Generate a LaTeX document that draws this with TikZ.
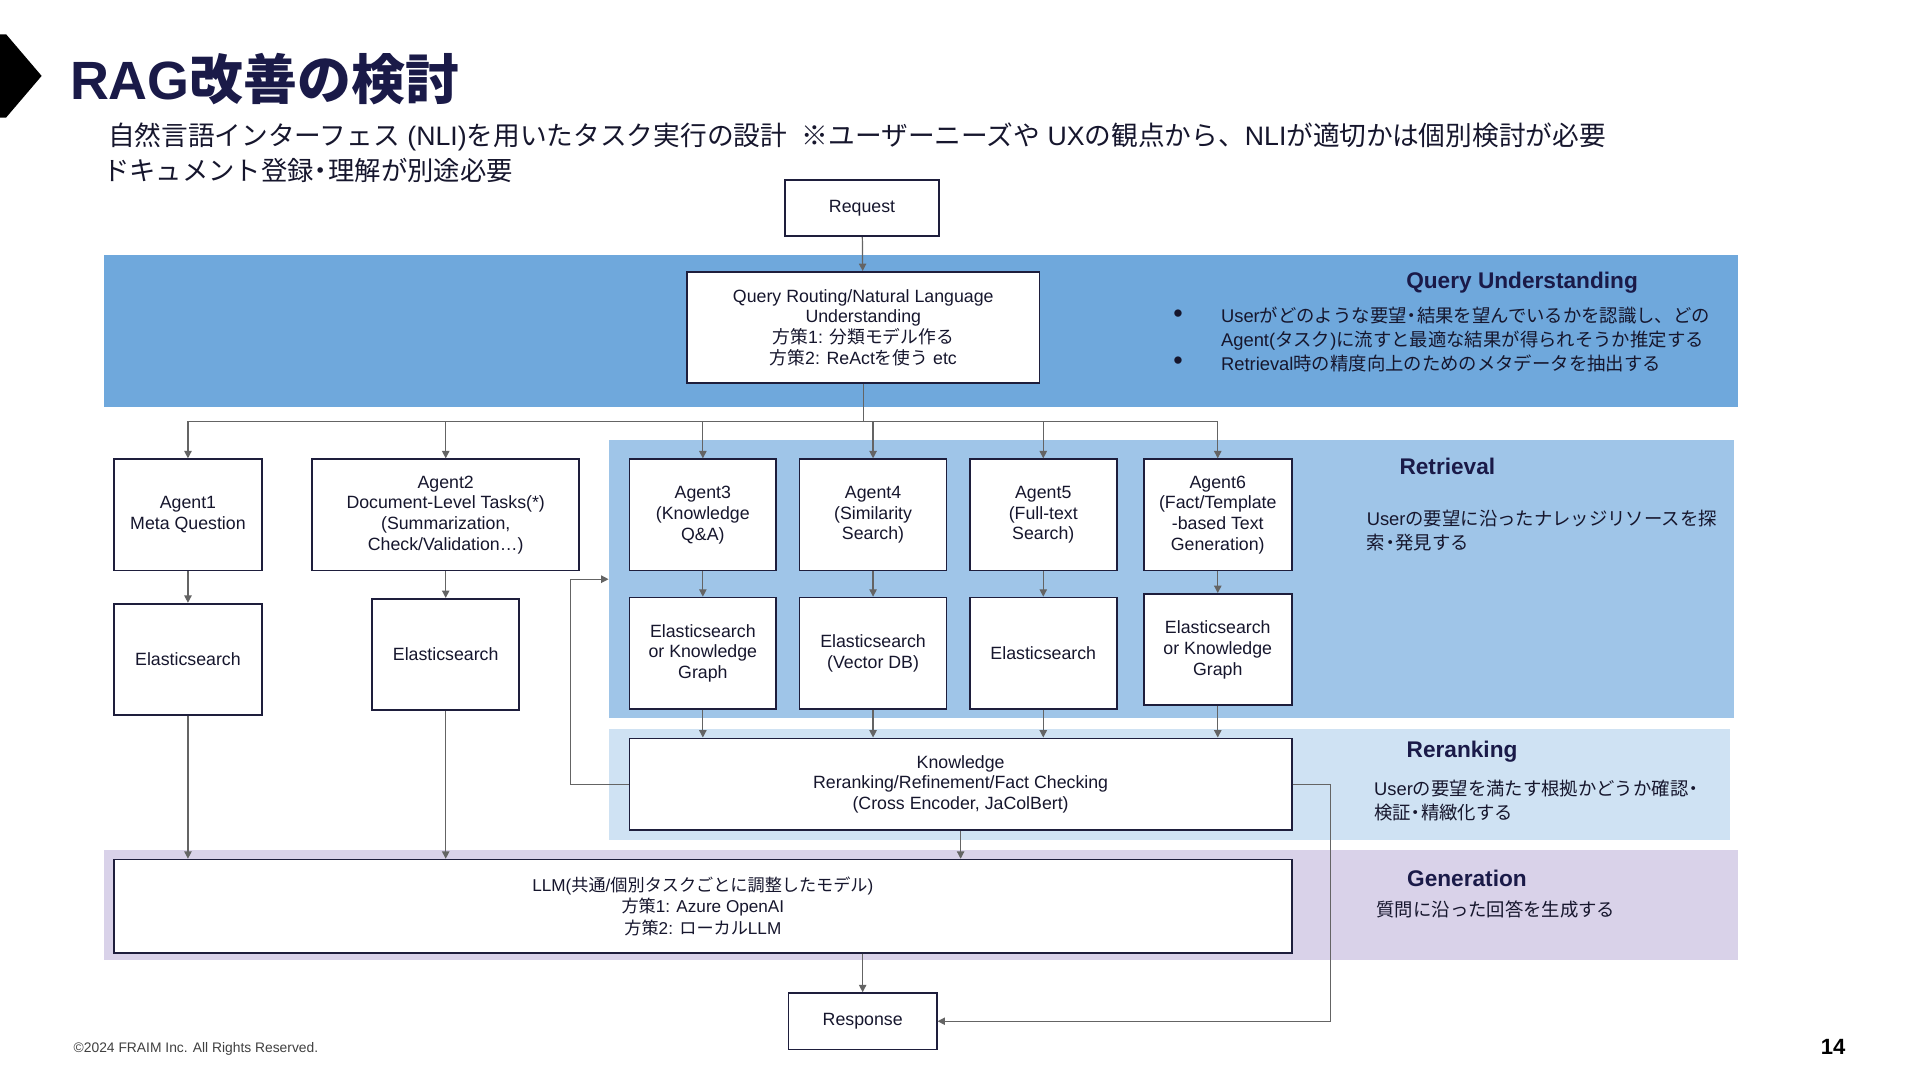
\documentclass[tikz,border=0pt]{standalone}
\usepackage{fontspec}
\setmainfont{Liberation Sans}
\newfontfamily\cjkfam{Noto Sans CJK JP}
\usetikzlibrary{arrows.meta,calc}
% automatic switch to the CJK font for CJK characters
\newXeTeXintercharclass\CJKcls
\newcount\cjkcc
\def\setcjkrange#1#2{\cjkcc=#1\relax
  \loop\XeTeXcharclass\cjkcc=\CJKcls\relax
  \ifnum\cjkcc<#2\relax\advance\cjkcc by 1\relax\repeat}
\setcjkrange{"3000}{"30FF}
\setcjkrange{"4E00}{"9FFF}
\setcjkrange{"FF00}{"FFEF}
\XeTeXcharclass"203B=\CJKcls
\XeTeXinterchartoks 0 \CJKcls = {\cjkfam}
\XeTeXinterchartoks 4095 \CJKcls = {\cjkfam}
\XeTeXinterchartoks \CJKcls 0 = {\rmfamily}
\XeTeXinterchartoks \CJKcls 4095 = {\rmfamily}
\XeTeXinterchartokenstate=1
\newcommand\nk{\kern-.22em・\kern-.22em}
\definecolor{qublue}{RGB}{111,168,220}
\definecolor{retblue}{RGB}{159,197,232}
\definecolor{rrblue}{RGB}{207,226,243}
\definecolor{genpurple}{RGB}{217,210,233}
\definecolor{navy}{RGB}{26,26,72}
\definecolor{boxc}{RGB}{30,30,60}
\definecolor{txtc}{RGB}{22,22,45}
\definecolor{arrc}{RGB}{100,100,100}
\begin{document}
\begin{tikzpicture}[x=1pt,y=-1pt,
  box/.style={draw=boxc, line width=1.4pt, fill=white, align=center, inner sep=2pt,
    text=txtc, font=\fontsize{14.5}{17}\selectfont},
  wh/.style 2 args={minimum width=#1pt, minimum height=#2pt},
  arr/.style={draw=arrc, line width=1pt, -{Triangle[length=6pt,width=6pt]}},
  conn/.style={draw=arrc, line width=1pt},
  bandtitle/.style={text=navy, font=\fontsize{18.5}{22}\selectfont\bfseries},
  bandtext/.style={text=txtc, anchor=west, align=left, inner sep=0pt,
    font=\fontsize{15}{19.5}\selectfont},
  bullet/.style={text=txtc, font=\fontsize{22}{22}\selectfont}]
\useasboundingbox (0,0) rectangle (1568,882);
\fill[white] (0,0) rectangle (1568,882);
% header
\fill[black] (0,28) -- (5,28) -- (34,62) -- (5,96) -- (0,96) -- cycle;
\node[anchor=west, inner sep=0pt, text=navy, font=\fontsize{44}{50}\selectfont\bfseries] (title) at (57,65) {RAG改善の検討};
\node[anchor=west, inner sep=0pt, text=txtc, font=\fontsize{21.8}{26}\selectfont] (sub1) at (88,112) {自然言語インターフェス (NLI)を用いたタスク実行の設計\ \ ※ユーザーニーズや UXの観点から、NLIが適切かは個別検討が必要};
\node[anchor=west, inner sep=0pt, text=txtc, font=\fontsize{21.5}{26}\selectfont] (sub2) at (84,139) {ドキュメント登録\nk 理解が別途必要};
% bands
\fill[qublue] (85,208) rectangle (1419,332);
\node[fill=retblue, inner sep=0pt, anchor=north west, minimum width=919pt, minimum height=227pt] (retband) at (497,359) {};
\fill[rrblue] (497,595) rectangle (1413,686);
\fill[genpurple] (85,694) rectangle (1419,784);
% band texts
\node[bandtitle] (qut) at (1243,231) {Query Understanding};
\node[bullet] (b1) at (962,258) {•};
\node[bullet] (b2) at (962,297) {•};
\node[bandtext] (qub) at (997,277.5) {Userがどのような要望\nk 結果を望んでいるかを認識し、どの\\Agent(タスク)に流すと最適な結果が得られそうか推定する\\Retrieval時の精度向上のためのメタデータを抽出する};
\node[bandtitle] (rett) at (1182,381) {Retrieval};
\node[bandtext] (retb) at (1116,433.5) {Userの要望に沿ったナレッジリソースを探\\索\nk 発見する};
\node[bandtitle] (rrt) at (1194,614) {Reranking};
\node[bandtext] (rrb) at (1122,654) {Userの要望を満たす根拠かどうか確認\nk\\検証\nk 精緻化する};
\node[bandtitle] (gent) at (1198,717) {Generation};
\node[bandtext] (genb) at (1124,743) {質問に沿った回答を生成する};
% boxes
\node[box, wh={126}{46}] (req) at (704,170) {Request};
\node[box, wh={288}{91}] (qr) at (705,267.5) {Query Routing/Natural Language\\Understanding\\方策1: 分類モデル作る\\方策2: ReActを使う etc};
\node[box, wh={121}{91}] (a1) at (153.5,420.5) {Agent1\\Meta Question};
\node[box, wh={218}{91}] (a2) at (364,420.5) {Agent2\\Document-Level Tasks(*)\\(Summarization,\\Check/Validation…)};
\node[box, wh={120}{91}] (a3) at (574,420.5) {Agent3\\(Knowledge\\Q\&A)};
\node[box, wh={120}{91}] (a4) at (713,420.5) {Agent4\\(Similarity\\Search)};
\node[box, wh={120}{91}] (a5) at (852,420.5) {Agent5\\(Full-text\\Search)};
\node[box, wh={121}{91}] (a6) at (994.5,420.5) {Agent6\\(Fact/Template\\-based Text\\Generation)};
\node[box, wh={121}{91}] (e1) at (153.5,538.5) {Elasticsearch};
\node[box, wh={120}{91}] (e2) at (364,534.5) {Elasticsearch};
\node[box, wh={120}{91}] (e3) at (574,533.5) {Elasticsearch\\or Knowledge\\Graph};
\node[box, wh={120}{91}] (e4) at (713,533.5) {Elasticsearch\\(Vector DB)};
\node[box, wh={120}{91}] (e5) at (852,533.5) {Elasticsearch};
\node[box, wh={121}{91}] (e6) at (994.5,530.5) {Elasticsearch\\or Knowledge\\Graph};
\node[box, wh={541}{75}] (kn) at (784.5,640.5) {Knowledge\\Reranking/Refinement/Fact Checking\\(Cross Encoder, JaColBert)};
\node[box, wh={962}{76}, font=\fontsize{14}{17.5}\selectfont] (llm) at (574,740) {LLM(共通/個別タスクごとに調整したモデル)\\方策1: Azure OpenAI\\方策2: ローカルLLM};
\node[box, wh={121}{46}] (resp) at (704.5,834) {Response};
% connectors
\coordinate (bus) at (705,344);
\coordinate (loopin) at (497,473);
\draw[arr] (req) -- (qr);
\draw[conn] (qr.south) -- (bus);
\draw[conn] (a1.north |- bus) -- (a6.north |- bus);
\foreach \n in {a1,a2,a3,a4,a5,a6} \draw[arr] (\n.north |- bus) -- (\n.north);
\foreach \n in {1,...,6} \draw[arr] (a\n.south) -- (e\n.north);
\foreach \n in {e3,e4,e5,e6} \draw[arr] (\n.south) -- (\n.south |- kn.north);
\draw[arr] (e1.south) -- (e1.south |- llm.north);
\draw[arr] (e2.south) -- (e2.south |- llm.north);
\draw[arr] (kn.west) -| ($(loopin)+(-31,0)$) -- (loopin);
\draw[arr] (kn.east) -| ($(resp.east)+(321,0)$) -- (resp.east);
\draw[arr] (kn.south) -- (kn.south |- llm.north);
\draw[arr] (llm.south -| resp.north) -- (resp.north);
% footer
\node[anchor=west, inner sep=0pt, text=black!75, font=\fontsize{11.3}{13}\selectfont] (copy) at (60,857) {©2024 FRAIM Inc. All Rights Reserved.};
\node[inner sep=0pt, text=black, font=\fontsize{18}{20}\selectfont\bfseries] (page) at (1497,855) {14};
\end{tikzpicture}
\end{document}
